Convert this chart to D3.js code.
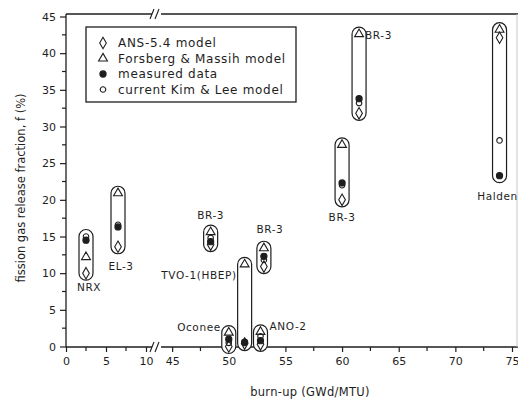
<!DOCTYPE html>
<html>
<head>
<meta charset="utf-8">
<script src="https://cdn.jsdelivr.net/npm/d3@7"></script>
<style>
  html, body { margin: 0; padding: 0; background: #fff; }
  svg { display: block; font-family: "DejaVu Sans", sans-serif; }
</style>
</head>
<body>
<div id="chart"></div>
<script>
// ─────────────────────────────────────────
// data
// ─────────────────────────────────────────
const groupNames = ['NRX', 'EL-3', 'BR-3', 'TVO-1(HBEP)', 'Oconee', 'ANO-2', 'BR-3', 'BR-3', 'BR-3', 'Halden'];
const burnup = [2.5, 6.5, 48.4, 51.4, 50.0, 52.8, 53.1, 60.0, 61.5, 73.9];
const ansModel = [10.0, 13.6, 13.9, 0.4, 0.0, 0.3, 10.9, 20.0, 31.8, 42.1];
const forsbergModel = [12.2, 20.9, 15.6, 11.2, 1.9, 2.0, 13.4, 27.5, 42.6, 43.2];
const measured = [14.5, 16.3, 14.3, 0.6, 1.0, 0.8, 12.3, 22.3, 33.8, 23.3];
const kimLeeModel = [15.0, 16.6, 14.8, 0.5, 0.5, 1.4, 11.8, 22.0, 33.2, 28.1];

const legendLabels = ['ANS-5.4 model', 'Forsberg & Massih model', 'measured data', 'current Kim & Lee model'];
const xTicksLow = [0, 5, 10];
const xTicksHigh = [45, 50, 55, 60, 65, 70, 75];
const yTicks = [0, 5, 10, 15, 20, 25, 30, 35, 40, 45];

// ─────────────────────────────────────────
// layout
// ─────────────────────────────────────────
const W = 518, H = 401;
const ink = '#1e1e1e';
const fLeft = 66, fTop = 14, fBottom = 347, fRight = 517;

const svg = d3.select('#chart').append('svg')
  .attr('width', W).attr('height', H);

const y = d3.scaleLinear().domain([0, 45]).range([346.5, 16.5]);
// broken x axis: two linear pieces
const xLow = d3.scaleLinear().domain([0, 11.5]).range([66, 158]);
const xHigh = d3.scaleLinear().domain([44, 75]).range([160.8, 512]);
const x = v => v < 30 ? xLow(v) : xHigh(v);

// frame
const frame = svg.append('g').attr('stroke', ink).attr('stroke-width', 1.3).attr('fill', 'none');
frame.append('line').attr('x1', fLeft).attr('x2', fLeft).attr('y1', fTop).attr('y2', fBottom);
[fTop, fBottom].forEach(yy => {
  frame.append('line').attr('x1', fLeft).attr('x2', 152).attr('y1', yy).attr('y2', yy);
  frame.append('line').attr('x1', 161).attr('x2', W).attr('y1', yy).attr('y2', yy);
  // break marks //
  [152, 157].forEach(bx => {
    frame.append('line').attr('x1', bx - 2).attr('x2', bx + 2)
      .attr('y1', yy + 5).attr('y2', yy - 5).attr('stroke-width', 1.1);
  });
});
svg.append('line').attr('x1', fRight).attr('x2', fRight).attr('y1', fTop).attr('y2', fBottom)
  .attr('stroke', '#c8c8c8').attr('stroke-width', 1);

// ── x axis
function xAxis(scale, ticks, minor) {
  const g = svg.append('g').attr('transform', `translate(0,${fBottom})`);
  g.call(d3.axisBottom(scale).tickValues(ticks).tickSize(5).tickPadding(5).tickFormat(d3.format('d')));
  g.select('.domain').remove();
  g.selectAll('line').attr('stroke', ink).attr('stroke-width', 1.2);
  g.selectAll('text').attr('fill', ink).attr('font-size', 11).attr('font-family', '"DejaVu Sans", sans-serif');
  g.selectAll('.minor').data(minor).enter().append('line')
    .attr('x1', d => scale(d)).attr('x2', d => scale(d))
    .attr('y1', 0).attr('y2', 4).attr('stroke', ink).attr('stroke-width', 1.2);
}
xAxis(xLow, xTicksLow, xTicksLow.slice(0, -1).map(d => d + 2.5));
xAxis(xHigh, xTicksHigh, xTicksHigh.slice(0, -1).map(d => d + 2.5));

// ── y axis
const yg = svg.append('g').attr('transform', `translate(${fLeft},0)`);
yg.call(d3.axisLeft(y).tickValues(yTicks).tickSize(6).tickPadding(4));
yg.select('.domain').remove();
yg.selectAll('line').attr('stroke', ink).attr('stroke-width', 1.2);
yg.selectAll('text').attr('fill', ink).attr('font-size', 11).attr('font-family', '"DejaVu Sans", sans-serif');
yg.selectAll('.minor').data(yTicks.slice(0, -1).map(d => d + 2.5)).enter().append('line')
  .attr('x1', -4).attr('x2', 0).attr('y1', d => y(d)).attr('y2', d => y(d))
  .attr('stroke', ink).attr('stroke-width', 1.2);

// axis titles
svg.append('text').attr('x', 310).attr('y', 396).attr('text-anchor', 'middle')
  .attr('font-size', 11.5).attr('letter-spacing', 0.3).attr('fill', ink).text('burn-up (GWd/MTU)');
svg.append('text').attr('transform', 'translate(25,188) rotate(-90)').attr('text-anchor', 'middle')
  .attr('font-size', 11.5).attr('fill', ink).text('fission gas release fraction, f (%)');

// ─────────────────────────────────────────
// groups: capsule around each experiment + symbols
// ─────────────────────────────────────────
const groups = groupNames.map((name, i) => ({
  name, b: burnup[i],
  vals: [ansModel[i], forsbergModel[i], measured[i], kimLeeModel[i]]
}));

const symDiamond = d3.symbol().type(d3.symbolDiamond).size(38);
const symTriangle = d3.symbol().type(d3.symbolTriangle).size(34);
const symDot = d3.symbol().type(d3.symbolCircle).size(30);
const symCircle = d3.symbol().type(d3.symbolCircle).size(24);
const markers = [
  { path: symDiamond(), fill: 'none' },
  { path: symTriangle(), fill: 'none' },
  { path: symDot(), fill: ink },
  { path: symCircle(), fill: 'none' }
];

const capW = 14, pad = 7;
const gg = svg.append('g').selectAll('g.grp').data(groups).enter().append('g').attr('class', 'grp');

gg.append('rect')
  .attr('x', d => x(d.b) - capW / 2)
  .attr('y', d => y(d3.max(d.vals)) - pad)
  .attr('width', capW)
  .attr('height', d => y(d3.min(d.vals)) - y(d3.max(d.vals)) + 2 * pad)
  .attr('rx', capW / 2)
  .attr('fill', '#fff').attr('stroke', ink).attr('stroke-width', 1.2);

gg.selectAll('path.mk').data(d => d.vals.map((v, k) => ({ b: d.b, v, k })))
  .enter().append('path').attr('class', 'mk')
  .attr('transform', d => `translate(${x(d.b)},${y(d.v)})`)
  .attr('d', d => markers[d.k].path)
  .attr('fill', d => markers[d.k].fill)
  .attr('stroke', ink).attr('stroke-width', 1.1);

// experiment labels, placed beside their capsule
const labelPlace = [
  { side: 'below', dx: 3, dy: 11 },
  { side: 'below', dx: 3, dy: 16 },
  { side: 'above', dx: 0, dy: -6 },
  { side: 'left', dx: -8, dy: 22 },
  { side: 'left', dx: -8, dy: 1 },
  { side: 'right', dx: 9, dy: 1 },
  { side: 'above', dx: 6, dy: -8 },
  { side: 'below', dx: 0, dy: 14 },
  { side: 'righttop', dx: 6, dy: 12 },
  { side: 'below', dx: -2, dy: 17 }
];
gg.append('text')
  .attr('font-size', 10.5).attr('letter-spacing', 0.6).attr('fill', ink)
  .attr('text-anchor', (d, i) => {
    const s = labelPlace[i].side;
    return s === 'left' ? 'end' : (s === 'right' || s === 'righttop') ? 'start' : 'middle';
  })
  .attr('x', (d, i) => x(d.b) + labelPlace[i].dx)
  .attr('y', (d, i) => {
    const p = labelPlace[i];
    const yTop = y(d3.max(d.vals)) - pad, yBot = y(d3.min(d.vals)) + pad;
    if (p.side === 'below') return yBot + p.dy;
    if (p.side === 'above' || p.side === 'righttop' || (p.side === 'left' && i === 3)) return yTop + p.dy;
    return yTop + p.dy + 4;
  })
  .text(d => d.name);

// ─────────────────────────────────────────
// legend
// ─────────────────────────────────────────
const lg = svg.append('g');
lg.append('rect').attr('x', 86).attr('y', 27).attr('width', 210).attr('height', 75)
  .attr('fill', '#fff').attr('stroke', ink).attr('stroke-width', 1.3);
const rowY = [43, 58.5, 74, 89.5];
legendLabels.forEach((t, i) => {
  lg.append('path').attr('transform', `translate(103,${rowY[i]})`)
    .attr('d', markers[i].path).attr('fill', markers[i].fill)
    .attr('stroke', ink).attr('stroke-width', 1.1);
  lg.append('text').attr('x', 118).attr('y', rowY[i] + 4)
    .attr('font-size', 12).attr('letter-spacing', 0.7).attr('fill', ink).text(t);
});
</script>
</body>
</html>
